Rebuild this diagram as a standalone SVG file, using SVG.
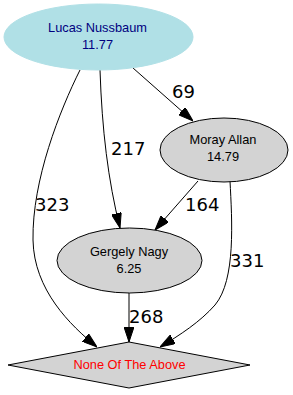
<svg xmlns="http://www.w3.org/2000/svg" width="293" height="395" viewBox="0 0 293 395">
<style>
.node ellipse, .node polygon { stroke: #000; stroke-width: 1; }
.node .blue { fill: #b0e0e6; stroke: #b0e0e6; }
.grey { fill: #d3d3d3; }
.nt { font-family: "Liberation Sans", Arial, sans-serif; font-size: 12.8px; text-anchor: middle; }
.el { font-family: "DejaVu Sans", sans-serif; font-size: 18px; fill: #000; }
.edge path { fill: none; stroke: #000; stroke-width: 1; }
</style>
<defs>
<marker id="arr" markerUnits="userSpaceOnUse" markerWidth="15" markerHeight="10" refX="15" refY="5" orient="auto" viewBox="0 0 15 10">
<path d="M0,0 L15,5 L0,10 z" fill="#000" stroke="#000" stroke-width="1"/>
</marker>
</defs>
<rect width="293" height="395" fill="#fff"/>
<g id="edges" class="edge">
<path d="M133,68 L193,121" marker-end="url(#arr)"/>
<path d="M100,70 C102,130 108,180 120,228" marker-end="url(#arr)"/>
<path d="M80,70 C60,110 32,180 33,240 C34,290 70,325 97,347" marker-end="url(#arr)"/>
<path d="M198,181 L155,230" marker-end="url(#arr)"/>
<path d="M230,181 C232,220 236,280 215,305 C200,322 180,335 160,347" marker-end="url(#arr)"/>
<path d="M129,293 L129,342" marker-end="url(#arr)"/>
<text class="el" x="172" y="98">69</text>
<text class="el" x="111" y="155">217</text>
<text class="el" x="35" y="211">323</text>
<text class="el" x="185" y="211">164</text>
<text class="el" x="230" y="267">331</text>
<text class="el" x="129" y="323">268</text>
</g>
<g id="lucas" class="node">
<ellipse class="blue" cx="98.5" cy="37" rx="94.5" ry="33"/>
<text class="nt" x="97.5" y="32" fill="#000080">Lucas Nussbaum</text>
<text class="nt" x="97.5" y="49" fill="#000080">11.77</text>
</g>
<g id="moray" class="node">
<ellipse class="grey" cx="224" cy="150" rx="64" ry="32"/>
<text class="nt" x="223" y="144">Moray Allan</text>
<text class="nt" x="223" y="161">14.79</text>
</g>
<g id="gergely" class="node">
<ellipse class="grey" cx="129.5" cy="260.5" rx="72.5" ry="32.5"/>
<text class="nt" x="129" y="256">Gergely Nagy</text>
<text class="nt" x="129" y="273">6.25</text>
</g>
<g id="none" class="node">
<polygon class="grey" points="129,342 250,365 129,388 8,365"/>
<text class="nt" x="129.5" y="369" fill="#ff0000">None Of The Above</text>
</g>
</svg>
